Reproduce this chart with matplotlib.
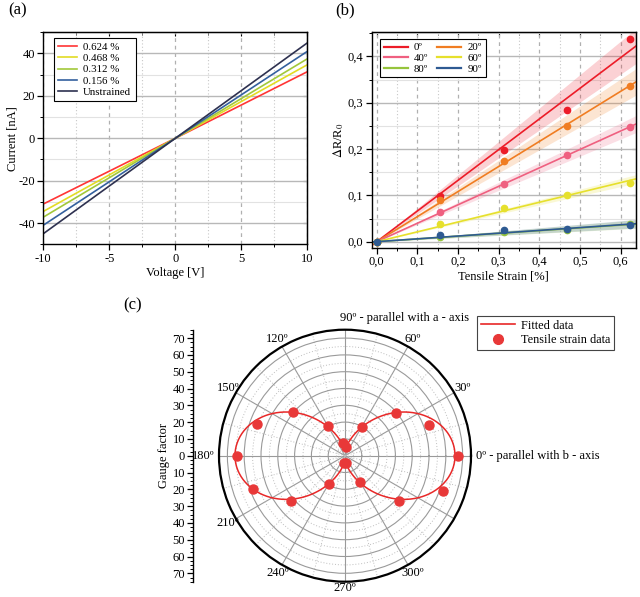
import numpy as np
import matplotlib
matplotlib.use('Agg')
import matplotlib.pyplot as plt
from matplotlib.ticker import MultipleLocator, FuncFormatter, FixedLocator
from matplotlib.lines import Line2D

plt.rcParams['font.family'] = ['Liberation Serif', 'DejaVu Serif']
plt.rcParams['mathtext.fontset'] = 'stix'
plt.rcParams['font.size'] = 9
plt.rcParams['axes.unicode_minus'] = False

# ---------------- data (a) ----------------
voltage = [-10, 0, 10]
iv_labels = ['0.624 %', '0.468 %', '0.312 %', '0.156 %', 'Unstrained']
current_0624 = [-31.0, 0, 31.4]
current_0468 = [-34.5, 0, 34.7]
current_0312 = [-37.2, 0, 37.5]
current_0156 = [-41.0, 0, 41.0]
current_unstrained = [-45.0, 0, 45.0]
iv_colors = ['#ff3535', '#e2dc24', '#a2c83a', '#34609e', '#2e3150']

# ---------------- data (b) ----------------
strain = [0, 0.156, 0.312, 0.468, 0.624]
angle_labels = ['0º', '20º', '40º', '60º', '80º', '90º']
dr_0 = [0, 0.099, 0.197, 0.285, 0.438]
dr_20 = [0, 0.090, 0.174, 0.250, 0.336]
dr_40 = [0, 0.063, 0.124, 0.187, 0.248]
dr_60 = [0, 0.038, 0.073, 0.101, 0.127]
dr_80 = [0, 0.010, 0.021, 0.025, 0.038]
dr_90 = [0, 0.014, 0.025, 0.027, 0.035]
band_halfwidth = [0.037, 0.028, 0.018, 0.009, 0.009, 0.009]  # at max strain
angle_colors = ['#ec1c28', '#f07d22', '#ef6080', '#e6e02c', '#96c43c', '#2e5a92']

# ---------------- data (c) ----------------
gf_angle_deg = [0, 20, 40, 60, 80, 100, 120, 140, 160, 180, 200, 220, 240, 260,
                280, 300, 320, 340]
gauge_factor = [67.4, 53.3, 39.8, 19.9, 5.0, 7.5, 20.1, 40.5, 55.8, 64.1, 58.5,
                42.2, 19.6, 4.5, 4.5, 18.4, 42.2, 62.0]

W, H = 640, 597
fig = plt.figure(figsize=(W / 100, H / 100), dpi=100)


def px(x0, y0, x1, y1):
    return [x0 / W, 1 - y1 / H, (x1 - x0) / W, (y1 - y0) / H]


def comma(v, pos):
    return ('%.1f' % v).replace('.', ',')


def style_box(ax):
    for s in ax.spines.values():
        s.set_linewidth(1.0)
    ax.tick_params(which='major', direction='out', length=4, width=0.9, pad=2)
    ax.tick_params(which='minor', direction='out', length=2, width=0.7)


# ---------------- panel (a) ----------------
ax1 = fig.add_axes(px(43.3, 32.3, 307.3, 244.3))
iv_data = [current_0624, current_0468, current_0312, current_0156, current_unstrained]
for lab, cur, col in zip(iv_labels, iv_data, iv_colors):
    ax1.plot(voltage, cur, color=col, lw=1.2, label=lab)
ax1.set_xlim(-10, 10)
ax1.set_ylim(-50, 50)
ax1.xaxis.set_major_locator(MultipleLocator(5))
ax1.xaxis.set_minor_locator(MultipleLocator(2.5))
ax1.yaxis.set_major_locator(MultipleLocator(20))
ax1.yaxis.set_minor_locator(MultipleLocator(10))
ax1.grid(axis='y', which='major', color='#b8b8b8', lw=1.0, ls='-')
ax1.grid(axis='y', which='minor', color='#e2e2e2', lw=0.8, ls='-')
ax1.grid(axis='x', which='major', color='#b0b0b0', lw=0.9, ls=(0, (3, 3)))
ax1.grid(axis='x', which='minor', color='#c8c8c8', lw=0.8, ls=(0, (1, 2)))
ax1.set_axisbelow(True)
style_box(ax1)
ax1.set_xlabel('Voltage [V]', fontsize=9, labelpad=2)
ax1.set_ylabel('Current [nA]', fontsize=9, labelpad=0)
leg1 = ax1.legend(loc='upper left', bbox_to_anchor=(0.04, 0.973), borderaxespad=0,
                  fontsize=7.8, handlelength=1.7, handletextpad=0.6,
                  labelspacing=0.15, borderpad=0.4, fancybox=False, framealpha=1,
                  edgecolor='black')
leg1.get_frame().set_linewidth(0.8)

# ---------------- panel (b) ----------------
ax2 = fig.add_axes(px(371.7, 32.3, 636, 247.7))
series_b = [dr_0, dr_20, dr_40, dr_60, dr_80, dr_90]
xs = np.array(strain)
xfit = np.linspace(-0.0123, 0.6376, 50)
handles = []
for lab, ys, col, hw in zip(angle_labels, series_b, angle_colors, band_halfwidth):
    ys = np.array(ys)
    slope = np.sum(xs * ys) / np.sum(xs * xs)
    yfit = slope * xfit
    band = hw * np.abs(xfit) / xs.max()
    ax2.fill_between(xfit, yfit - band, yfit + band, color=col, alpha=0.2, lw=0)
    ax2.plot(xfit, yfit, color=col, lw=1.2)
    ax2.plot(xs, ys, 'o', color=col, ms=4.5)
    handles.append(Line2D([], [], color=col, lw=1.6, label=lab))
ax2.set_xlim(-0.0123, 0.6376)
ax2.set_ylim(-0.013, 0.452)
ax2.xaxis.set_major_locator(MultipleLocator(0.1))
ax2.xaxis.set_minor_locator(MultipleLocator(0.05))
ax2.yaxis.set_major_locator(MultipleLocator(0.1))
ax2.yaxis.set_minor_locator(MultipleLocator(0.05))
ax2.xaxis.set_major_formatter(FuncFormatter(comma))
ax2.yaxis.set_major_formatter(FuncFormatter(comma))
ax2.grid(axis='y', which='major', color='#b8b8b8', lw=1.0, ls='-')
ax2.grid(axis='y', which='minor', color='#e2e2e2', lw=0.8, ls='-')
ax2.grid(axis='x', which='major', color='#b0b0b0', lw=0.9, ls=(0, (3, 3)))
ax2.grid(axis='x', which='minor', color='#c8c8c8', lw=0.8, ls=(0, (1, 2)))
ax2.set_axisbelow(True)
style_box(ax2)
ax2.set_xlabel('Tensile Strain [%]', fontsize=9, labelpad=2)
ax2.set_ylabel(r'$\Delta$R/R$_0$', fontsize=9, labelpad=1)
order = [0, 2, 4, 1, 3, 5]
leg2 = ax2.legend([handles[i] for i in order], [angle_labels[i] for i in order],
                  ncol=2, loc='upper left', bbox_to_anchor=(0.031, 0.969),
                  borderaxespad=0, fontsize=7.8, handlelength=2.2,
                  handletextpad=0.6, labelspacing=0.1, columnspacing=0.8,
                  borderpad=0.35, fancybox=False, framealpha=1, edgecolor='black')
leg2.get_frame().set_linewidth(0.8)

for ax in (ax1, ax2):
    sx = ax.secondary_xaxis('top')
    sx.xaxis.set_major_locator(ax.xaxis.get_major_locator())
    sx.xaxis.set_minor_locator(ax.xaxis.get_minor_locator())
    sx.tick_params(which='both', direction='in', labeltop=False, length=3)
    sx.tick_params(which='minor', length=2)
    sy = ax.secondary_yaxis('right')
    sy.yaxis.set_major_locator(ax.yaxis.get_major_locator())
    sy.yaxis.set_minor_locator(ax.yaxis.get_minor_locator())
    sy.tick_params(which='both', direction='in', labelright=False, length=3)
    sy.tick_params(which='minor', length=2)

# ---------------- panel (c) ----------------
cx, cy, R = 345, 455.7, 126
axp = fig.add_axes(px(cx - R, cy - R, cx + R, cy + R), projection='polar')
th = np.deg2rad(gf_angle_deg)
gf = np.array(gauge_factor)
A = np.column_stack([np.cos(th) ** 2, np.ones_like(th)])
coef, *_ = np.linalg.lstsq(A, gf, rcond=None)
tt = np.linspace(0, 2 * np.pi, 400)
axp.plot(tt, coef[0] * np.cos(tt) ** 2 + coef[1], color='#e82828', lw=1.1,
         zorder=3)
axp.plot(th, gf, 'o', color='#e83838', ms=6.5, zorder=4)
axp.set_ylim(0, 75)
axp.set_yticks(np.arange(10, 71, 10))
axp.set_yticklabels([])
axp.yaxis.set_minor_locator(FixedLocator(np.arange(5, 75, 10)))
axp.set_xticks(np.deg2rad(np.arange(0, 360, 30)))
axp.set_xticklabels([])
axp.xaxis.set_minor_locator(FixedLocator(np.deg2rad(np.arange(15, 360, 30))))
axp.grid(which='major', color='#9a9a9a', lw=0.8, ls='-')
axp.grid(which='minor', color='#bdbdbd', lw=0.7, ls=(0, (1, 2)))
axp.spines['polar'].set_linewidth(1.6)
axp.tick_params(axis='x', which='major', direction='in', length=6, width=1.2)
axp.tick_params(axis='x', which='minor', direction='in', length=4, width=1.0)
axp.set_axisbelow(True)

theta_labels = {30: '30º', 60: '60º', 120: '120º', 150: '150º', 210: '210º',
                240: '240º', 270: '270º', 300: '300º'}
for deg, txt in theta_labels.items():
    axp.text(np.deg2rad(deg), 80.5 if deg != 270 else 79, txt, ha='center',
             va='center', fontsize=9)
axp.text(0, 78, '0º - parallel with b - axis', ha='left', va='center', fontsize=9)
axp.text(np.deg2rad(180), 77.5, '180º', ha='right', va='center', fontsize=9)
axp.text(np.deg2rad(92), 82, '90º - parallel with a - axis', ha='left',
         va='center', fontsize=9)

# radial scale at left
axr = fig.add_axes(px(193.3, cy - R, 194.3, cy + R))
axr.set_ylim(-75, 75)
for s in ('top', 'right', 'bottom'):
    axr.spines[s].set_visible(False)
axr.spines['left'].set_linewidth(1.0)
axr.set_xticks([])
axr.patch.set_visible(False)
axr.yaxis.set_major_locator(MultipleLocator(10))
axr.yaxis.set_minor_locator(MultipleLocator(2.5))
axr.yaxis.set_major_formatter(FuncFormatter(lambda v, p: '%d' % abs(v)))
axr.tick_params(which='major', direction='out', length=4, width=0.9, pad=2)
axr.tick_params(which='minor', direction='out', length=2, width=0.7)
axr.set_ylabel('Gauge factor', fontsize=9, labelpad=2)

leg3_handles = [Line2D([], [], color='#e82828', lw=1.2, label='Fitted data'),
                Line2D([], [], color='#e83838', marker='o', ls='', ms=7,
                       label='Tensile strain data')]
leg3 = fig.legend(handles=leg3_handles, loc='upper left',
                  bbox_to_anchor=(477 / W, 1 - 316 / H), borderaxespad=0,
                  fontsize=8.8, handlelength=2.8, handletextpad=0.5,
                  labelspacing=0.2, borderpad=0.3, fancybox=False, framealpha=1,
                  edgecolor='#444444')
leg3.get_frame().set_linewidth(0.8)

# panel labels
fig.text(8 / W, 1 - 10 / H, '(a)', fontsize=12, va='center', ha='left')
fig.text(335 / W, 1 - 10 / H, '(b)', fontsize=12, va='center', ha='left')
fig.text(123 / W, 1 - 305 / H, '(c)', fontsize=12, va='center', ha='left')

fig.savefig('out.png', dpi=100)
